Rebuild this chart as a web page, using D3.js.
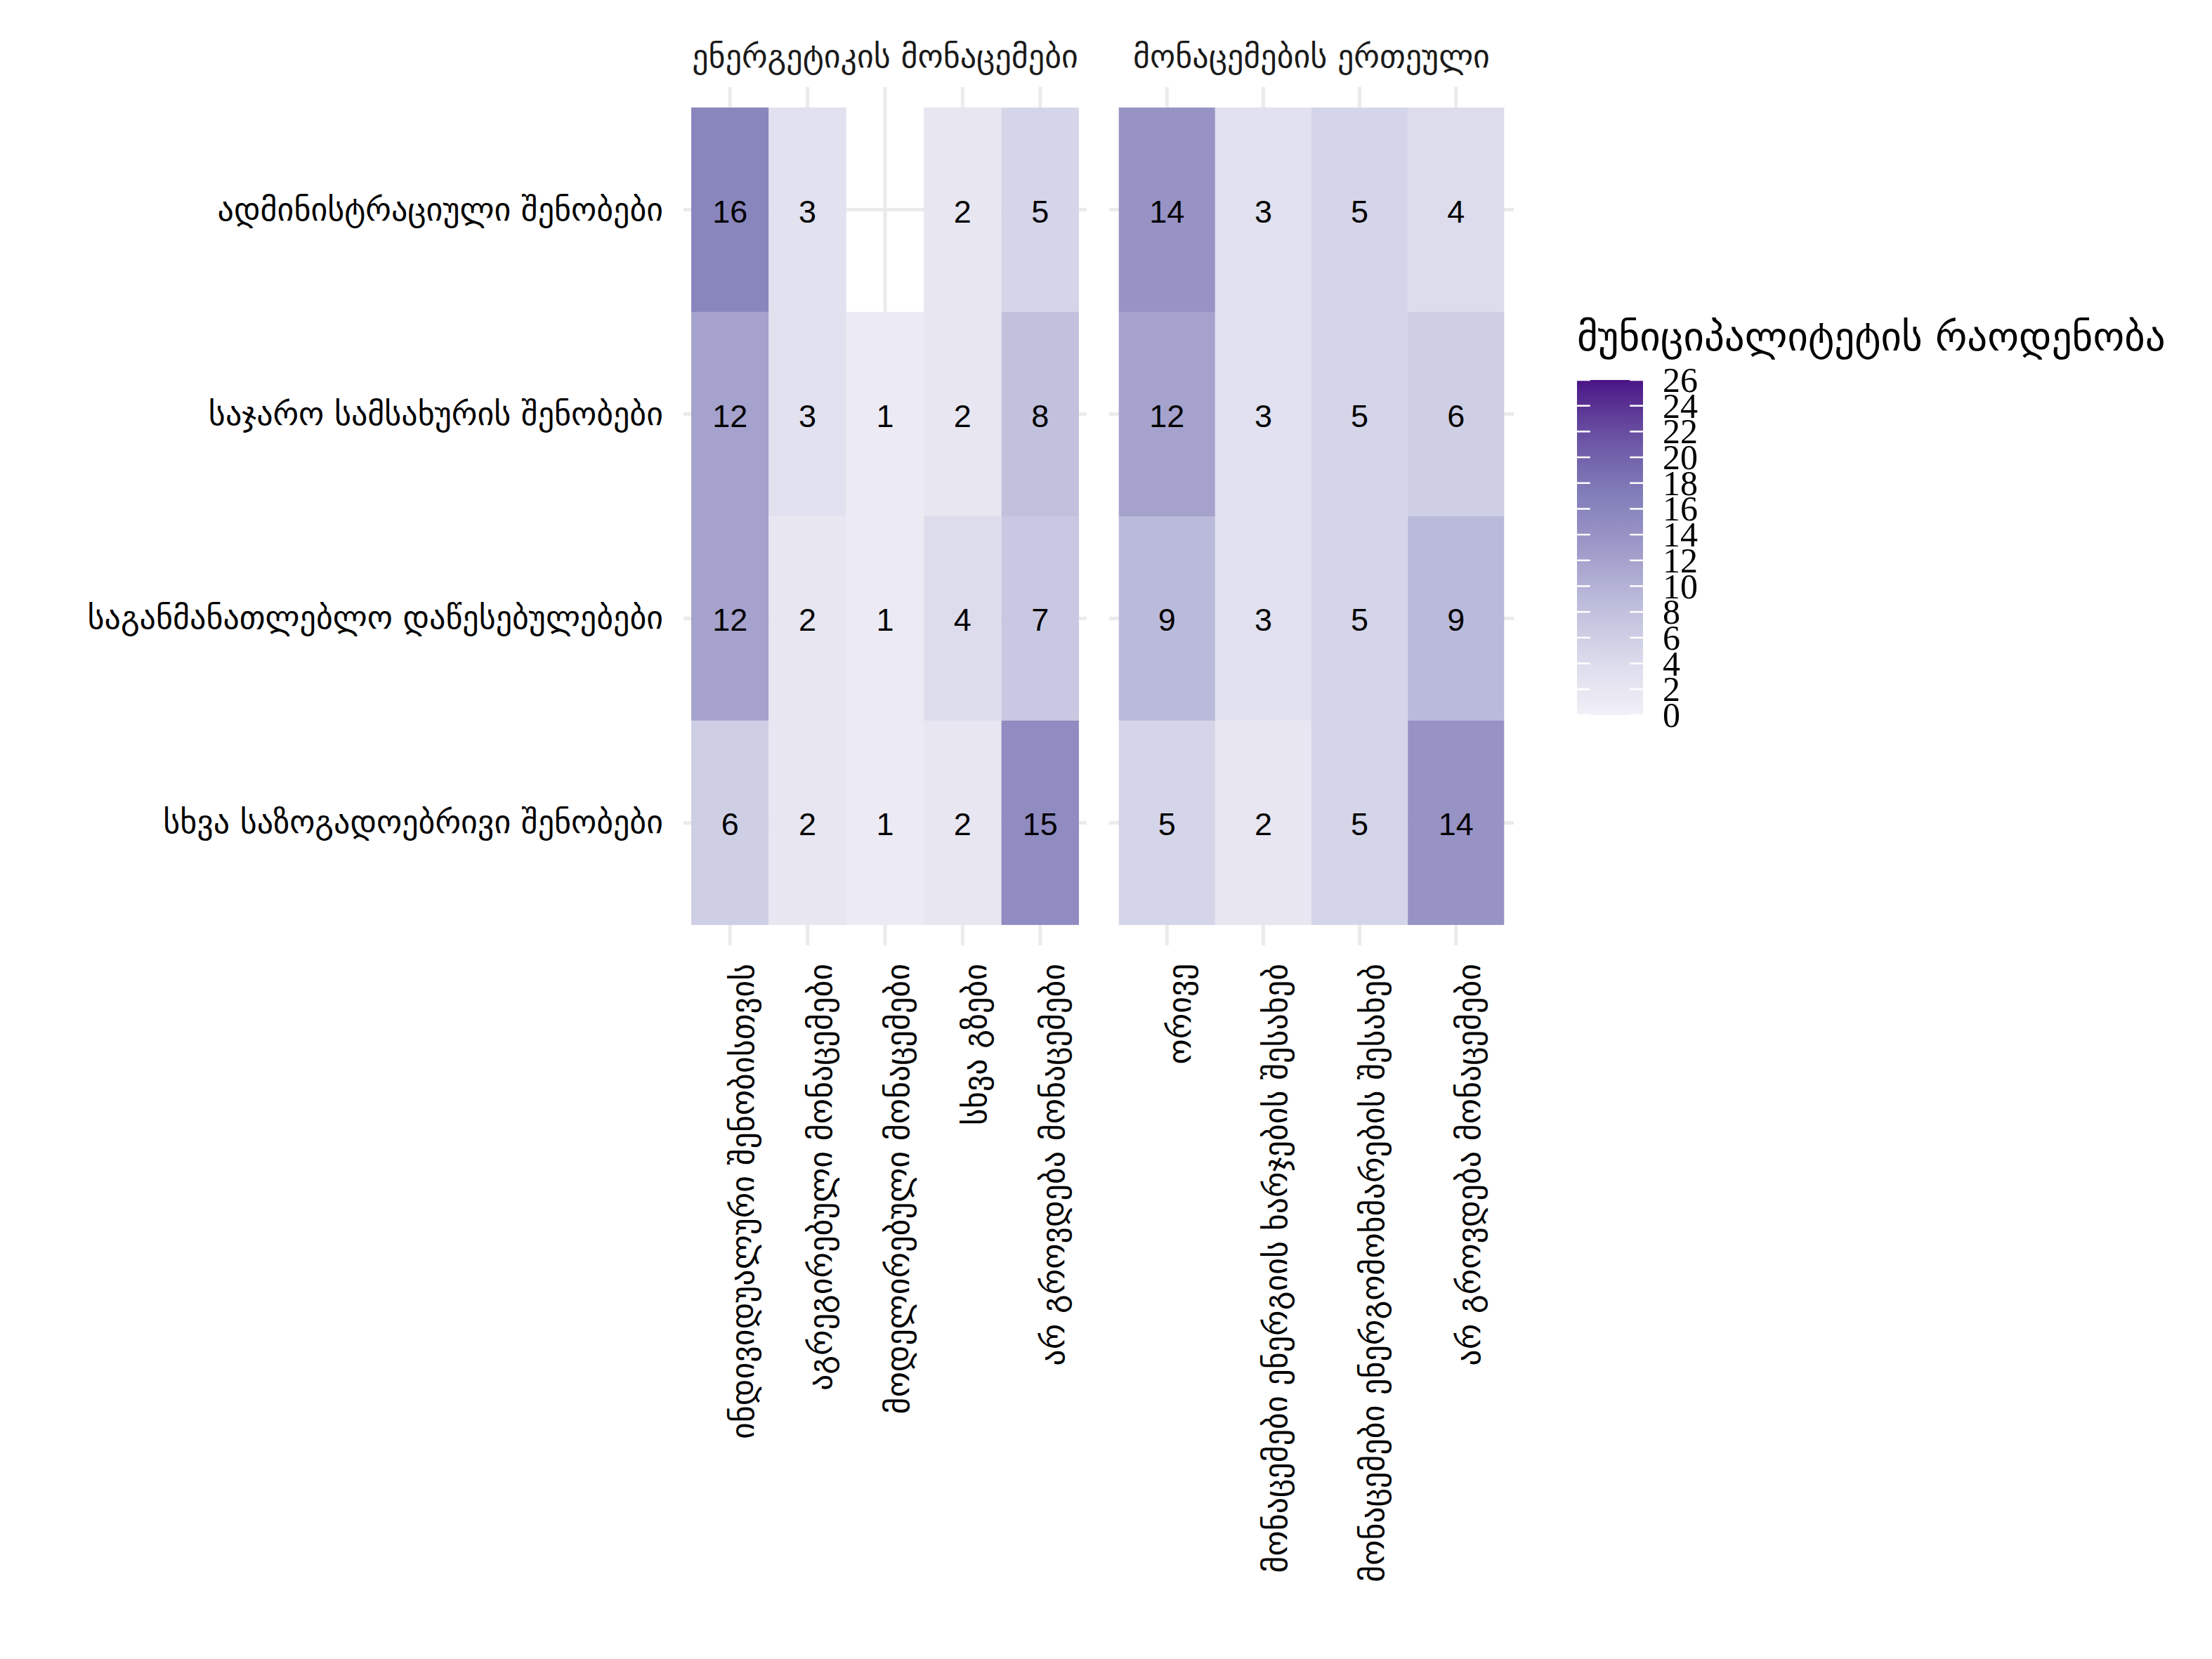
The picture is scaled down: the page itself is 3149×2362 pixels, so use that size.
<!DOCTYPE html>
<html><head><meta charset="utf-8">
<script src="https://cdn.jsdelivr.net/npm/d3@7"></script>
<style>body{margin:0;background:#fff}</style>
</head><body>
<svg id="chart" width="3149" height="2362" xmlns="http://www.w3.org/2000/svg"></svg>
<script>
// ---------- data ----------
const rowLabels = [
  "ადმინისტრაციული შენობები",
  "საჯარო სამსახურის შენობები",
  "საგანმანათლებლო დაწესებულებები",
  "სხვა საზოგადოებრივი შენობები"
];
const facetLabels = ["ენერგეტიკის მონაცემები", "მონაცემების ერთეული"];
const energyCols = [
  "ინდივიდუალური შენობისთვის",
  "აგრეგირებული მონაცემები",
  "მოდელირებული მონაცემები",
  "სხვა გზები",
  "არ გროვდება მონაცემები"
];
const unitCols = [
  "ორივე",
  "მონაცემები ენერგიის ხარჯების შესახებ",
  "მონაცემები ენერგომოხმარების შესახებ",
  "არ გროვდება მონაცემები"
];
// rows x columns
const energyValues = [
  [16, 3, null, 2, 5],
  [12, 3, 1, 2, 8],
  [12, 2, 1, 4, 7],
  [6, 2, 1, 2, 15]
];
const unitValues = [
  [14, 3, 5, 4],
  [12, 3, 5, 6],
  [9, 3, 5, 9],
  [5, 2, 5, 14]
];
const legendTitle = "მუნიციპალიტეტის რაოდენობა";
const legendTicks = [0, 2, 4, 6, 8, 10, 12, 14, 16, 18, 20, 22, 24, 26];
const fillLimits = [0, 26];
const purples = ["#F2F0F7", "#DADAEB", "#BCBDDC", "#9E9AC8", "#807DBA", "#6A51A3", "#4A1486"];

// ---------- layout ----------
const svg = d3.select("#chart");
const geoFont = "'DejaVu Sans', sans-serif";
const geoSize = 46;
const gridColor = "#EBEBEB";
const panelTop = 124, panelBottom = 1346;

const color = d3.scaleLinear()
  .domain(purples.map((_, i) => fillLimits[0] + i * (fillLimits[1] - fillLimits[0]) / (purples.length - 1)))
  .range(purples)
  .interpolate(d3.interpolateLab);

const y = d3.scaleBand().domain(rowLabels).range([panelTop, panelBottom])
  .paddingInner(0).paddingOuter(0.1);

const panels = [
  { label: facetLabels[0], cols: energyCols, values: energyValues, x0: 973, x1: 1547 },
  { label: facetLabels[1], cols: unitCols, values: unitValues, x0: 1579, x1: 2155 }
];

panels.forEach(p => {
  const x = d3.scaleBand().domain(p.cols).range([p.x0, p.x1]).paddingInner(0).paddingOuter(0.1);
  const g = svg.append("g");
  // grid
  g.selectAll("line.v").data(p.cols).join("line")
    .attr("x1", d => x(d) + x.bandwidth() / 2).attr("x2", d => x(d) + x.bandwidth() / 2)
    .attr("y1", panelTop).attr("y2", panelBottom)
    .attr("stroke", gridColor).attr("stroke-width", 5);
  g.selectAll("line.h").data(rowLabels).join("line")
    .attr("y1", d => y(d) + y.bandwidth() / 2).attr("y2", d => y(d) + y.bandwidth() / 2)
    .attr("x1", p.x0).attr("x2", p.x1)
    .attr("stroke", gridColor).attr("stroke-width", 5);
  // tiles
  const cells = [];
  p.values.forEach((r, ri) => r.forEach((v, ci) => {
    if (v !== null) cells.push({ row: rowLabels[ri], col: p.cols[ci], v });
  }));
  g.selectAll("rect").data(cells).join("rect")
    .attr("x", d => x(d.col)).attr("y", d => y(d.row))
    .attr("width", x.bandwidth()).attr("height", y.bandwidth())
    .attr("fill", d => color(d.v));
  g.selectAll("text.val").data(cells).join("text")
    .attr("x", d => x(d.col) + x.bandwidth() / 2)
    .attr("y", d => y(d.row) + y.bandwidth() / 2 + 18)
    .attr("text-anchor", "middle")
    .attr("font-family", "'Liberation Sans', Arial, sans-serif").attr("font-size", 45)
    .attr("fill", "#000").text(d => d.v);
  // strip
  g.append("text").attr("x", (p.x0 + p.x1) / 2).attr("y", 96)
    .attr("text-anchor", "middle").attr("font-family", geoFont).attr("font-size", geoSize)
    .attr("fill", "#1a1a1a").text(p.label);
  // x labels (rotated, top of glyphs at the tick)
  g.selectAll("text.xl").data(p.cols).join("text")
    .attr("transform", d => `translate(${x(d) + x.bandwidth() / 2},1372) rotate(-90)`)
    .attr("y", 34)
    .attr("text-anchor", "end")
    .attr("font-family", geoFont).attr("font-size", geoSize).attr("fill", "#000")
    .text(d => d);
});

// y labels
svg.append("g").selectAll("text").data(rowLabels).join("text")
  .attr("x", 944).attr("y", d => y(d) + y.bandwidth() / 2 + 15)
  .attr("text-anchor", "end")
  .attr("font-family", geoFont).attr("font-size", geoSize).attr("fill", "#000")
  .text(d => d);

// ---------- legend ----------
const lg = svg.append("g");
const barX = 2245, barW = 94, barTop = 541, barBottom = 1018;
const ly = d3.scaleLinear().domain(fillLimits).range([barBottom, barTop]);
lg.append("text").attr("x", barX).attr("y", 499)
  .attr("font-family", geoFont).attr("font-size", 57).attr("fill", "#000").text(legendTitle);
const grad = svg.append("defs").append("linearGradient").attr("id", "lgGrad")
  .attr("x1", 0).attr("y1", 1).attr("x2", 0).attr("y2", 0);
grad.selectAll("stop").data(d3.range(0, 27)).join("stop")
  .attr("offset", d => d / 26).attr("stop-color", d => color(d));
lg.append("rect").attr("x", barX).attr("y", barTop).attr("width", barW)
  .attr("height", barBottom - barTop).attr("fill", "url(#lgGrad)");
const tickLen = barW / 5;
lg.selectAll("line.tl").data(legendTicks).join("line")
  .attr("x1", barX).attr("x2", barX + tickLen).attr("y1", d => ly(d)).attr("y2", d => ly(d))
  .attr("stroke", "#fff").attr("stroke-width", 2.5);
lg.selectAll("line.tr").data(legendTicks).join("line")
  .attr("x1", barX + barW - tickLen).attr("x2", barX + barW).attr("y1", d => ly(d)).attr("y2", d => ly(d))
  .attr("stroke", "#fff").attr("stroke-width", 2.5);
lg.selectAll("text.lab").data(legendTicks).join("text")
  .attr("x", barX + barW + 28).attr("y", d => ly(d))
  .attr("dominant-baseline", "central")
  .attr("font-family", "'Liberation Serif', 'Times New Roman', serif").attr("font-size", 50)
  .attr("fill", "#000").text(d => d);
</script>
</body></html>
